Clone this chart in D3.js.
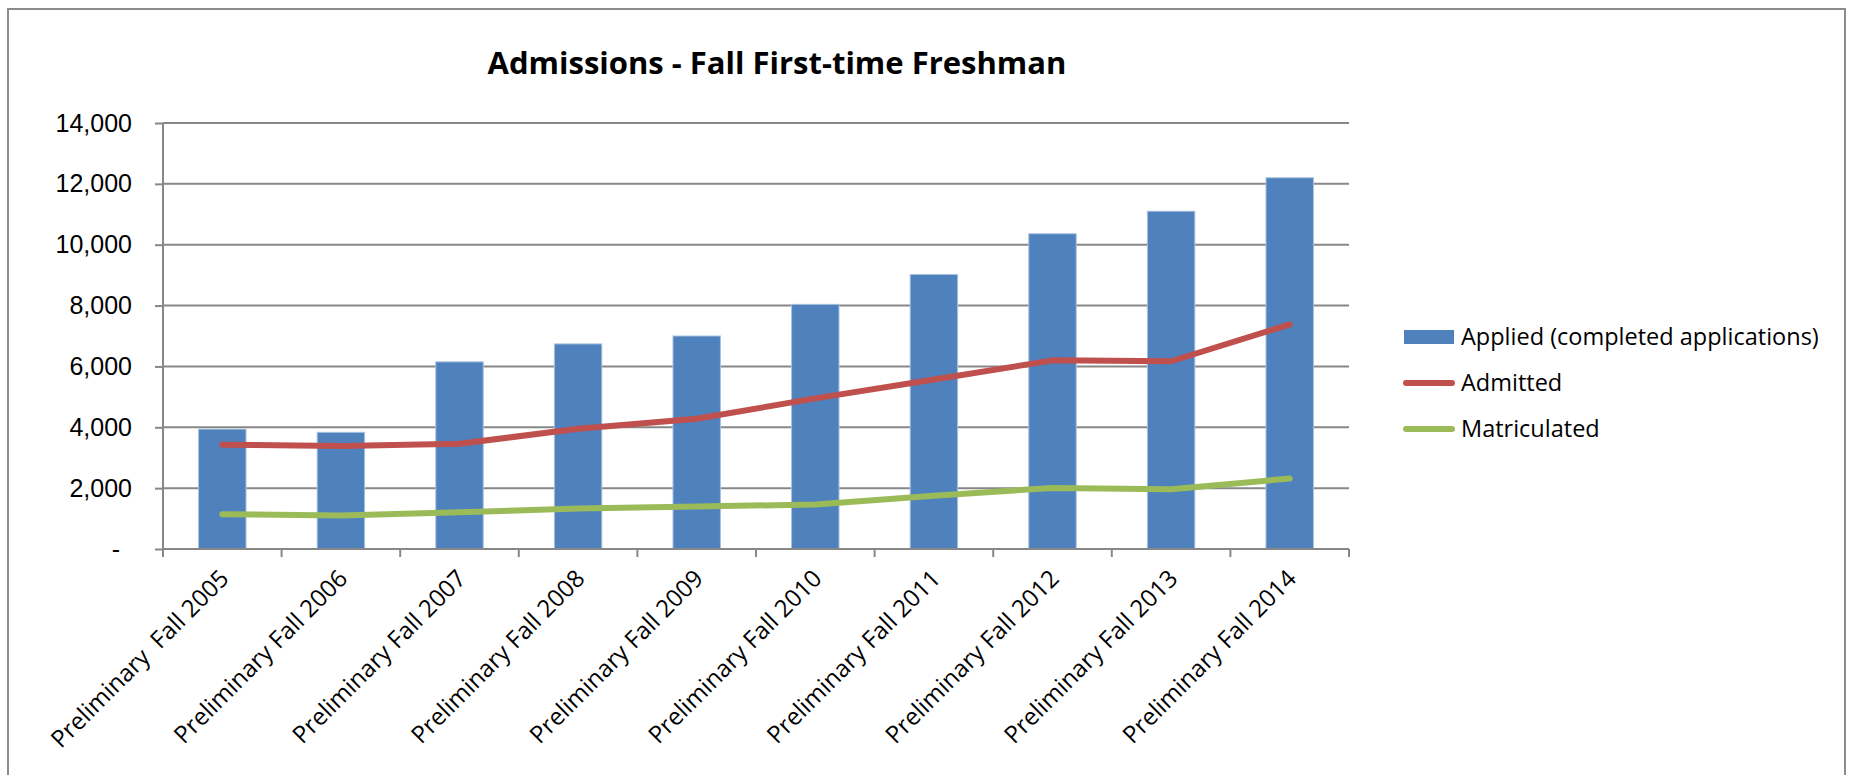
<!DOCTYPE html>
<html>
<head>
<meta charset="utf-8">
<script src="https://cdn.jsdelivr.net/npm/d3@7"></script>
<style>
  body { margin: 0; background: #fff; }
  svg { display: block; font-family: 'Open Sans', sans-serif; }
</style>
</head>
<body>
<svg></svg>
<script>
let terms = ['Preliminary  Fall 2005', 'Preliminary Fall 2006', 'Preliminary Fall 2007',
             'Preliminary Fall 2008', 'Preliminary Fall 2009', 'Preliminary Fall 2010',
             'Preliminary Fall 2011', 'Preliminary Fall 2012', 'Preliminary Fall 2013',
             'Preliminary Fall 2014']
let applied = [3940, 3835, 6150, 6740, 7000, 8040, 9020, 10360, 11100, 12200]
let admitted = [3430, 3385, 3460, 3950, 4280, 4950, 5570, 6200, 6170, 7380]
let matriculated = [1145, 1100, 1210, 1330, 1400, 1460, 1750, 2007, 1963, 2314]
let yTicks = [0, 2000, 4000, 6000, 8000, 10000, 12000, 14000]
let seriesNames = ['Applied (completed applications)', 'Admitted', 'Matriculated']

let width = 1851
let height = 775
let plotLeft = 163
let plotRight = 1349
let plotTop = 123
let plotBottom = 549

let blue = '#4f81bd'
let red = '#c0504d'
let green = '#9bbb59'
let grid = '#878787'

let svg = d3.select('svg')
    .attr('width', width)
    .attr('height', height)

// outer frame
svg.append('rect')
    .attr('x', 8)
    .attr('y', 9)
    .attr('width', 1837)
    .attr('height', 800)
    .attr('fill', 'none')
    .attr('stroke', '#8c8c8c')
    .attr('stroke-width', 2)

let xScale = d3.scaleBand()
                .domain(terms)
                .range([plotLeft, plotRight])
                .paddingInner(0.6)
                .paddingOuter(0.3)

let yScale = d3.scaleLinear()
                .domain([0, 14000])
                .range([plotBottom, plotTop])

let step = xScale.step()
let cx = d => xScale(d) + xScale.bandwidth() / 2

// gridlines + y axis
let yAxis = d3.axisLeft(yScale)
              .tickValues(yTicks)
              .tickSize(8)
              .tickPadding(23)
              .tickFormat(d => d === 0 ? '-' : d3.format(',')(d))

svg.append('g')
  .selectAll('line')
  .data(yTicks.filter(d => d > 0))
  .enter()
  .append('line')
    .attr('x1', plotLeft)
    .attr('x2', plotRight)
    .attr('y1', d => yScale(d))
    .attr('y2', d => yScale(d))
    .attr('stroke', grid)
    .attr('stroke-width', 2)

let yg = svg.append('g')
    .attr('transform', `translate(${plotLeft}, 0)`)
    .call(yAxis)

yg.select('.domain').remove()
yg.append('line')
    .attr('y1', plotTop)
    .attr('y2', plotBottom)
    .attr('stroke', grid)
    .attr('stroke-width', 2)
yg.selectAll('.tick line').attr('stroke', grid).attr('stroke-width', 2)
yg.selectAll('.tick text')
    .attr('fill', '#000')
    .style('font-size', '25px')
    .attr('dx', d => d === 0 ? -12 : 0)

// bars
svg.append('g')
  .selectAll('rect')
  .data(applied)
  .enter()
  .append('rect')
    .attr('x', (d, i) => xScale(terms[i]))
    .attr('y', d => yScale(d))
    .attr('width', xScale.bandwidth())
    .attr('height', d => yScale(0) - yScale(d))
    .attr('fill', blue)
    .attr('stroke', '#a9c1df')
    .attr('stroke-width', 1)

// x axis
let xg = svg.append('g')
    .attr('transform', `translate(0, ${plotBottom})`)

xg.append('line')
    .attr('x1', plotLeft)
    .attr('x2', plotRight)
    .attr('stroke', grid)
    .attr('stroke-width', 2)

xg.selectAll('.tk')
  .data(d3.range(terms.length + 1))
  .enter()
  .append('line')
    .attr('x1', i => plotLeft + i * step)
    .attr('x2', i => plotLeft + i * step)
    .attr('y1', 0)
    .attr('y2', 8)
    .attr('stroke', grid)
    .attr('stroke-width', 2)

xg.selectAll('text')
  .data(terms)
  .enter()
  .append('text')
    .attr('transform', d => `translate(${cx(d) + 8}, 31) rotate(-45)`)
    .style('text-anchor', 'end')
    .style('font-size', '24px')
    .style('white-space', 'pre')
    .text(d => d)

// lines
let line = d3.line()
              .x((d, i) => cx(terms[i]))
              .y(d => yScale(d))

svg.append('path')
    .attr('d', line(admitted))
    .attr('fill', 'none')
    .attr('stroke', red)
    .attr('stroke-width', 6)
    .attr('stroke-linecap', 'round')
    .attr('stroke-linejoin', 'round')

svg.append('path')
    .attr('d', line(matriculated))
    .attr('fill', 'none')
    .attr('stroke', green)
    .attr('stroke-width', 6)
    .attr('stroke-linecap', 'round')
    .attr('stroke-linejoin', 'round')

// title
svg.append('text')
    .attr('x', 777)
    .attr('y', 74)
    .style('text-anchor', 'middle')
    .style('font-size', '31px')
    .style('font-weight', 'bold')
    .text('Admissions - Fall First-time Freshman')

// legend
let legend = svg.append('g')
    .attr('transform', 'translate(1404, 0)')
let rows = [337, 383, 429]

legend.append('rect')
    .attr('x', 0)
    .attr('y', rows[0] - 7)
    .attr('width', 50)
    .attr('height', 14)
    .attr('fill', blue)

legend.selectAll('.sw')
  .data([red, green])
  .enter()
  .append('line')
    .attr('x1', 2)
    .attr('x2', 48)
    .attr('y1', (d, i) => rows[i + 1])
    .attr('y2', (d, i) => rows[i + 1])
    .attr('stroke', d => d)
    .attr('stroke-width', 6)
    .attr('stroke-linecap', 'round')

legend.selectAll('text')
  .data(seriesNames)
  .enter()
  .append('text')
    .attr('x', 57)
    .attr('y', (d, i) => rows[i])
    .attr('dy', '0.35em')
    .style('font-size', '23.5px')
    .text(d => d)
</script>
</body>
</html>
